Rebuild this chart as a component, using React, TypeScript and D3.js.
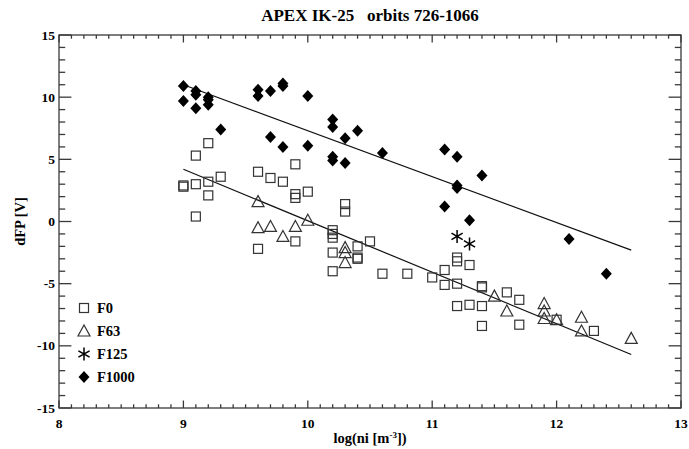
import React from "react";
import * as d3 from "d3";

// values: [log(ni), dFP]
const f0: [number, number][] = [
  [9.0, 2.9], [9.0, 2.8], [9.1, 5.3], [9.1, 3.0], [9.1, 0.4], [9.2, 6.3], [9.2, 3.2], [9.2, 2.1],
  [9.3, 3.6], [9.6, 4.0], [9.6, -2.2], [9.7, 3.5], [9.8, 3.2], [9.9, 4.6], [9.9, 2.2], [9.9, 1.9],
  [9.9, -1.6], [10.0, 2.4], [10.2, -0.7], [10.2, -1.0], [10.2, -1.3], [10.2, -2.5], [10.2, -4.0],
  [10.3, 1.4], [10.3, 0.8], [10.4, -2.0], [10.4, -2.9], [10.4, -3.0], [10.5, -1.6], [10.6, -4.2],
  [10.8, -4.2], [11.0, -4.5], [11.1, -3.9], [11.1, -5.1], [11.2, -2.9], [11.2, -3.2], [11.2, -5.0],
  [11.2, -6.8], [11.3, -3.5], [11.3, -6.7], [11.4, -5.2], [11.4, -5.3], [11.4, -6.8], [11.4, -8.4],
  [11.6, -5.7], [11.7, -6.3], [11.7, -8.3], [12.0, -7.9], [12.3, -8.8],
];

const f63: [number, number][] = [
  [9.6, 1.6], [9.6, -0.5], [9.7, -0.4], [9.8, -1.2], [9.9, -0.4], [10.0, 0.1],
  [10.3, -2.1], [10.3, -2.5], [10.3, -3.3], [11.5, -6.0], [11.6, -7.2], [11.9, -6.6],
  [11.9, -7.2], [11.9, -7.8], [12.0, -7.9], [12.2, -7.7], [12.2, -8.8], [12.6, -9.4],
];

const f125: [number, number][] = [[11.2, -1.2], [11.3, -1.8]];

const f1000: [number, number][] = [
  [9.0, 10.9], [9.0, 9.7], [9.1, 10.5], [9.1, 10.2], [9.1, 9.1], [9.2, 10.0], [9.2, 9.8], [9.2, 9.4],
  [9.3, 7.4], [9.6, 10.6], [9.6, 10.1], [9.7, 10.5], [9.7, 6.8], [9.8, 11.1], [9.8, 10.9], [9.8, 6.0],
  [10.0, 10.1], [10.0, 6.1], [10.2, 8.2], [10.2, 7.6], [10.2, 5.2], [10.2, 4.9], [10.3, 6.7], [10.3, 4.7],
  [10.4, 7.3], [10.6, 5.5], [11.1, 5.8], [11.1, 1.2], [11.2, 5.2], [11.2, 2.9], [11.2, 2.7], [11.3, 0.1],
  [11.4, 3.7], [12.1, -1.4], [12.4, -4.2],
];

// straight-line fits, drawn between their end points
const fitX = [9.0, 12.6];
const fitHigh = [11.0, -2.3];
const fitLow = [4.2, -10.7];

const xTicks = [8, 9, 10, 11, 12, 13];
const yTicks = [-15, -10, -5, 0, 5, 10, 15];
const legendNames = ["F0", "F63", "F125", "F1000"];

const W = 689;
const H = 449;
const m = { left: 59, right: 8, top: 35, bottom: 41 };
const font = "'Liberation Serif', 'Times New Roman', serif";
const axisColor = "#3a3a3a";

function Marker({ kind, x, y }: { kind: string; x: number; y: number }) {
  if (kind === "F0")
    return <rect x={x - 4.5} y={y - 4.5} width={9} height={9} fill="none" stroke="#333" strokeWidth={1.2} />;
  if (kind === "F63")
    return (
      <path d={`M${x - 6},${y + 5}L${x + 6},${y + 5}L${x},${y - 6}Z`} fill="none" stroke="#333" strokeWidth={1.2} />
    );
  if (kind === "F125")
    return (
      <path
        d={`M${x},${y - 6.5}L${x},${y + 6.5}M${x - 5.6},${y - 3.2}L${x + 5.6},${y + 3.2}M${x - 5.6},${y + 3.2}L${x + 5.6},${y - 3.2}`}
        stroke="#000"
        strokeWidth={1.5}
      />
    );
  return <path d={`M${x},${y - 6}L${x + 5.5},${y}L${x},${y + 6}L${x - 5.5},${y}Z`} fill="#000" />;
}

export default function App() {
  const x = d3.scaleLinear().domain([8, 13]).range([m.left, W - m.right]);
  const y = d3.scaleLinear().domain([-15, 15]).range([H - m.bottom, m.top]);
  const [x0, x1] = x.range();
  const [y0, y1] = y.range();

  const xMinor = d3.range(80, 131).map((v) => v / 10).filter((v) => !xTicks.includes(v));
  const yMinor = d3.range(-15, 16).filter((v) => !yTicks.includes(v));
  const xMaj = 7.5, xMin = 3.7, yMaj = 12.4, yMin = 6.2;

  const line = d3.line<number>().x((_, i) => x(fitX[i])).y((d) => y(d));

  const series: [string, [number, number][]][] = [
    ["F0", f0],
    ["F63", f63],
    ["F125", f125],
    ["F1000", f1000],
  ];

  return (
    <svg width={W} height={H} style={{ position: "absolute", left: 0, top: 0 }} fontFamily={font}>
      <rect width={W} height={H} fill="#fff" />
      <text x={(x0 + x1) / 2} y={21} textAnchor="middle" fontSize={17} fontWeight="bold" style={{ whiteSpace: "pre" }}>
        APEX IK-25   orbits 726-1066
      </text>

      {/* frame and ticks on all four sides */}
      <g stroke={axisColor} strokeWidth={1.3}>
        <rect x={x0} y={y1} width={x1 - x0} height={y0 - y1} fill="none" />
        {xTicks.map((t) => (
          <g key={"xt" + t}>
            <line x1={x(t)} x2={x(t)} y1={y0} y2={y0 - xMaj} />
            <line x1={x(t)} x2={x(t)} y1={y1} y2={y1 + xMaj} />
          </g>
        ))}
        {xMinor.map((t) => (
          <g key={"xm" + t}>
            <line x1={x(t)} x2={x(t)} y1={y0} y2={y0 - xMin} />
            <line x1={x(t)} x2={x(t)} y1={y1} y2={y1 + xMin} />
          </g>
        ))}
        {yTicks.map((t) => (
          <g key={"yt" + t}>
            <line x1={x0} x2={x0 + yMaj} y1={y(t)} y2={y(t)} />
            <line x1={x1} x2={x1 - yMaj} y1={y(t)} y2={y(t)} />
          </g>
        ))}
        {yMinor.map((t) => (
          <g key={"ym" + t}>
            <line x1={x0} x2={x0 + yMin} y1={y(t)} y2={y(t)} />
            <line x1={x1} x2={x1 - yMin} y1={y(t)} y2={y(t)} />
          </g>
        ))}
      </g>

      <g fontSize={13.5} fontWeight="bold">
        {xTicks.map((t) => (
          <text key={"xl" + t} x={x(t)} y={y0 + 20} textAnchor="middle">
            {t}
          </text>
        ))}
        {yTicks.map((t) => (
          <text key={"yl" + t} x={x0 - 4} y={y(t) + 4.5} textAnchor="end">
            {t}
          </text>
        ))}
      </g>

      <text x={(x0 + x1) / 2} y={443} textAnchor="middle" fontSize={14.5} fontWeight="bold">
        log(ni [m
        <tspan dy={-5} fontSize={9}>
          -3
        </tspan>
        <tspan dy={5}>])</tspan>
      </text>
      <text
        transform={`translate(25,${(y0 + y1) / 2}) rotate(-90)`}
        textAnchor="middle"
        fontSize={14.5}
        fontWeight="bold"
      >
        dFP [V]
      </text>

      <path d={line(fitHigh) ?? ""} fill="none" stroke="#111" strokeWidth={1.2} />
      <path d={line(fitLow) ?? ""} fill="none" stroke="#111" strokeWidth={1.2} />

      {series.map(([name, pts]) =>
        pts.map((p, i) => <Marker key={name + i} kind={name} x={x(p[0])} y={y(p[1])} />)
      )}

      {legendNames.map((name, i) => (
        <g key={"lg" + name}>
          <Marker kind={name} x={84} y={308 + i * 23} />
          <text x={97} y={313 + i * 23} fontSize={14.5} fontWeight="bold">
            {name}
          </text>
        </g>
      ))}
    </svg>
  );
}
